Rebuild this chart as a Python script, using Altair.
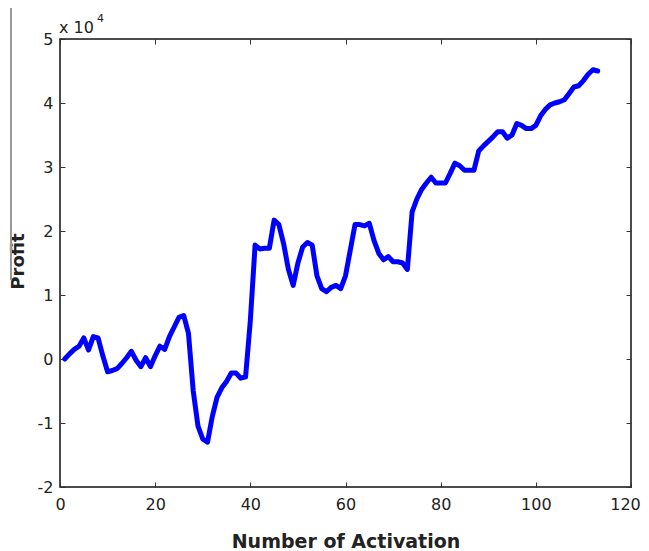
import altair as alt
import pandas as pd

activation = list(range(1, 114))
profit = [
    0.00, 0.08, 0.15, 0.20, 0.33, 0.14, 0.35, 0.33, 0.05, -0.20,
    -0.18, -0.15, -0.07, 0.02, 0.12, -0.02, -0.12, 0.02, -0.12, 0.05,
    0.20, 0.15, 0.35, 0.50, 0.65, 0.68, 0.40, -0.50, -1.05, -1.25,
    -1.30, -0.90, -0.60, -0.45, -0.35, -0.22, -0.22, -0.30, -0.28, 0.60,
    1.78, 1.72, 1.73, 1.73, 2.17, 2.10, 1.80, 1.40, 1.15, 1.50,
    1.75, 1.82, 1.78, 1.30, 1.10, 1.05, 1.12, 1.15, 1.10, 1.30,
    1.70, 2.10, 2.10, 2.08, 2.12, 1.85, 1.65, 1.55, 1.60, 1.52,
    1.52, 1.50, 1.40, 2.30, 2.50, 2.65, 2.75, 2.84, 2.75, 2.75,
    2.75, 2.90, 3.06, 3.02, 2.95, 2.95, 2.95, 3.25, 3.33, 3.40,
    3.47, 3.55, 3.55, 3.45, 3.50, 3.68, 3.65, 3.60, 3.60, 3.65,
    3.80, 3.90, 3.97, 4.00, 4.02, 4.05, 4.15, 4.25, 4.27, 4.35,
    4.45, 4.52, 4.50,
]
x_ticks = [0, 20, 40, 60, 80, 100, 120]
y_ticks = [-2, -1, 0, 1, 2, 3, 4, 5]

df = pd.DataFrame({"x": activation, "y": profit})

FONT = "DejaVu Sans"
W, H = 571, 448

xs = alt.Scale(domain=[0, 120], nice=False, zero=False)
ys = alt.Scale(domain=[-2, 5], nice=False, zero=False)

line = alt.Chart(df).mark_line(color="#0000ff", strokeWidth=5, strokeJoin="round", strokeCap="round").encode(
    x=alt.X("x:Q", scale=xs, axis=alt.Axis(
        orient="bottom", values=x_ticks, offset=-5, tickSize=5, domain=False, grid=False,
        labelPadding=9, labelFont=FONT, labelFontSize=16, labelColor="#222", tickColor="#333",
        labelExpr="'' + datum.value",
        labelOffset={"condition": {"test": "datum.value == 120", "value": -6}, "value": 0},
        title="Number of Activation", titleFont=FONT, titleFontSize=19, titleFontWeight="bold",
        titleColor="#222", titlePadding=20, labelFlush=False, labelOverlap=False)),
    y=alt.Y("y:Q", scale=ys, axis=alt.Axis(
        orient="left", values=y_ticks, offset=-5, tickSize=5, domain=False, grid=False,
        labelPadding=7, labelFont=FONT, labelFontSize=16, labelColor="#222", tickColor="#333",
        labelExpr="'' + datum.value",
        title="Profit", titleFont=FONT, titleFontSize=18, titleFontWeight="bold", titleColor="#222",
        titleX=-38, titleY=222, labelFlush=False, labelOverlap=False)),
)

mirror = alt.Chart(df).mark_line(opacity=0).encode(
    x=alt.X("x:Q", scale=xs, axis=alt.Axis(
        orient="top", values=x_ticks, offset=-5, tickSize=5, domain=False, grid=False,
        labels=False, title=None, tickColor="#333")),
    y=alt.Y("y:Q", scale=ys, axis=alt.Axis(
        orient="right", values=y_ticks, offset=-5, tickSize=5, domain=False, grid=False,
        labels=False, title=None, tickColor="#333")),
)

exp_df = pd.DataFrame({"t": ["x 10"], "s": ["4"]})
exp_main = alt.Chart(exp_df).mark_text(font=FONT, fontSize=16, align="left", baseline="alphabetic", color="#222").encode(
    text="t:N", x=alt.value(-1), y=alt.value(-6))
exp_sup = alt.Chart(exp_df).mark_text(font=FONT, fontSize=11, align="left", baseline="alphabetic", color="#222").encode(
    text="s:N", x=alt.value(37), y=alt.value(-17))

edge = alt.Chart(exp_df).mark_rule(color="#999", strokeWidth=2).encode(
    x=alt.value(-49), y=alt.value(-39), y2=alt.value(241))

chart = alt.layer(line, mirror, exp_main, exp_sup, edge).resolve_axis(x="independent", y="independent").properties(
    width=W, height=H,
    autosize=alt.AutoSizeParams(type="none"),
    padding={"left": 52, "top": 31, "right": 10, "bottom": 64},
    background="white",
).configure_view(stroke="#111", strokeWidth=1.5)

chart.save("out.html", embed_options={"renderer": "svg", "actions": False})
